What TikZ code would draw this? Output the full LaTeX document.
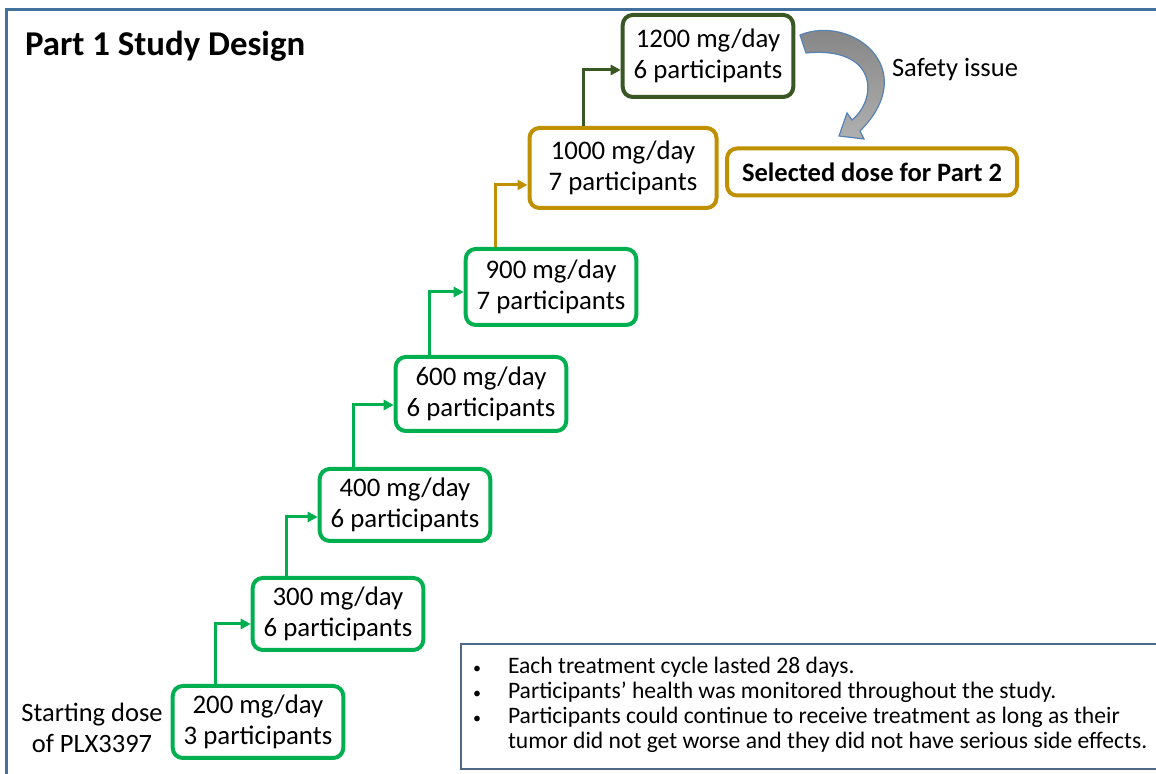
\documentclass[tikz,border=0pt]{standalone}
\usepackage{fontspec}
\setmainfont{Carlito}
\usepackage{enumitem}
\usetikzlibrary{arrows.meta}
\definecolor{doseGreen}{RGB}{0,176,80}
\definecolor{doseGold}{RGB}{191,144,0}
\definecolor{doseDark}{RGB}{56,87,35}
\definecolor{frameBlue}{RGB}{65,113,156}
\definecolor{noteBlue}{RGB}{80,104,136}
\definecolor{arrowDark}{RGB}{128,128,128}
\definecolor{arrowLight}{RGB}{176,176,176}
\definecolor{arrowEdge}{RGB}{84,130,180}

\begin{document}
\begin{tikzpicture}[x=0.5pt, y=0.5pt,
    dosebox/.style={draw=doseGreen, line width=2pt, rounded corners=5pt, align=center,
      inner xsep=5.5pt, minimum height=36pt, font=\fontsize{13.4}{15.5}\selectfont},
    link/.style={doseGreen, line width=1.5pt, -{Triangle[length=5pt,width=5pt]}},
    plain/.style={font=\fontsize{13.25}{15.5}\selectfont}]
    \useasboundingbox (0,0) rectangle (1156,774);
    \clip (0,0) rectangle (1156,774);

    % outer frame
    \draw[frameBlue, line width=1.5pt] (6,-20) -- (6,764) -- (1180,764);
    \node[anchor=west, font=\fontsize{17.4}{20}\selectfont\bfseries] (title) at (18,728) {Part 1 Study Design};

    % dose escalation steps
    \node[dosebox] (d200) at (258,52) {200 mg/day\\3 participants};
    \node[dosebox] (d300) at (338,160) {300 mg/day\\6 participants};
    \node[dosebox] (d400) at (405,269) {400 mg/day\\6 participants};
    \node[dosebox, minimum height=37pt] (d600) at (481,380) {600 mg/day\\6 participants};
    \node[dosebox, minimum height=38pt] (d900) at (551,487) {900 mg/day\\7 participants};
    \node[dosebox, draw=doseGold, minimum width=93.5pt, minimum height=40pt] (d1000) at (623,606) {1000 mg/day\\7 participants};
    \node[dosebox, draw=doseDark, minimum height=41pt] (d1200) at (708,718) {1200 mg/day\\6 participants};

    \node[dosebox, draw=doseGold, minimum width=145pt, minimum height=23.5pt,
      font=\fontsize{13.25}{15.5}\selectfont\bfseries] (sel) at (872,602) {Selected dose for Part 2};

    \node[plain, align=center] (start) at (92,46) {Starting dose\\of PLX3397};
    \node[plain] (safety) at (955,704) {Safety issue};

    % step arrows
    \draw[link] ([xshift=22.5pt]d200.north west) |- ([yshift=-5pt]d300.west);
    \draw[link] ([xshift=18pt]d300.north west) |- ([yshift=-6pt]d400.west);
    \draw[link] ([xshift=18pt]d400.north west) |- ([yshift=-5.5pt]d600.west);
    \draw[link] ([xshift=18pt]d600.north west) |- ([yshift=-2.5pt]d900.west);
    \draw[link, doseGold] ([xshift=16pt]d900.north west) |- ([yshift=-8.5pt]d1000.west);
    \draw[link, doseDark] ([xshift=28pt]d1000.north west) |- ([yshift=-7pt]d1200.west);

    % safety issue arrow
    \path[draw=arrowEdge, line width=0.6pt, top color=arrowDark, bottom color=arrowLight]
      (800,739) .. controls (852,760) and (922,705) .. (860,643)
      -- (864,635) -- (839,638) -- (847,661) -- (852,654)
      .. controls (878,675) and (878,728) .. (806,721) -- cycle;

    % notes
    \node[draw=noteBlue, line width=1pt, anchor=north west, inner xsep=4pt, inner ysep=3pt] (notes) at (460,131) {%
      \begin{minipage}[c][56.5pt][t]{345pt}
      \fontsize{11.8}{12.5}\selectfont
      \vspace*{3.8pt}
      \begin{itemize}[leftmargin=19.5pt, labelsep=13.5pt, topsep=0pt, itemsep=0pt, parsep=0pt, partopsep=0pt,
          label={\fontsize{8}{8}\selectfont\textbullet}]
        \item Each treatment cycle lasted 28 days.
        \item Participants’ health was monitored throughout the study.
        \item Participants could continue to receive treatment as long as their\newline
          tumor did not get worse and they did not have serious side effects.
      \end{itemize}
      \end{minipage}};
\end{tikzpicture}
\end{document}
